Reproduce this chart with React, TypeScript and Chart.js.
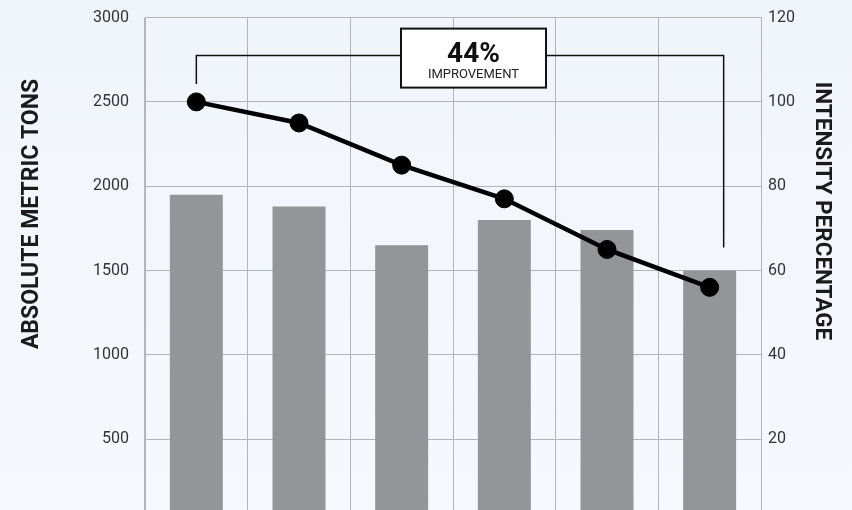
import React, { useEffect, useRef } from 'react';
import { Chart, registerables } from 'chart.js';

Chart.register(...registerables);

// ---- data ----
const categories = ['1', '2', '3', '4', '5', '6'];
const absoluteTons = [1950, 1880, 1650, 1800, 1740, 1500];
const intensityPct = [100, 95, 85, 77, 65, 56];
const leftAxisTitle = 'ABSOLUTE METRIC TONS';
const rightAxisTitle = 'INTENSITY PERCENTAGE';
const improvementValue = '44%';
const improvementLabel = 'IMPROVEMENT';

const FONT = 'Roboto, "Open Sans", sans-serif';
const SHIFT = 8; // canvas is lifted by this many px inside the frame

const overlayPlugin = {
  id: 'overlay',
  afterDatasetsDraw(chart: any) {
    const { ctx, chartArea, scales } = chart;
    const x = scales.x;
    const yL = scales.y;
    const yR = scales.y1;
    const top = chartArea.top;

    const xLeft = x.getPixelForValue(0);
    const xRight = x.getPixelForValue(categories.length - 1) + 14;
    const bracketY = top + 38;
    const leftBottom = yR.getPixelForValue(intensityPct[0]) - 18;
    const rightBottom = yL.getPixelForValue(absoluteTons[absoluteTons.length - 1]) - 23;

    const boxL = chartArea.left + 256;
    const boxW = 145;
    const boxT = top + 11;
    const boxH = 59;

    ctx.save();
    ctx.strokeStyle = '#111';
    ctx.lineWidth = 1.5;
    ctx.beginPath();
    ctx.moveTo(xLeft, leftBottom);
    ctx.lineTo(xLeft, bracketY);
    ctx.lineTo(boxL, bracketY);
    ctx.moveTo(boxL + boxW, bracketY);
    ctx.lineTo(xRight, bracketY);
    ctx.lineTo(xRight, rightBottom);
    ctx.stroke();

    ctx.fillStyle = '#ffffff';
    ctx.fillRect(boxL, boxT, boxW, boxH);
    ctx.lineWidth = 2;
    ctx.strokeRect(boxL, boxT, boxW, boxH);

    const cx = boxL + boxW / 2;
    ctx.fillStyle = '#111';
    ctx.textAlign = 'center';
    ctx.textBaseline = 'alphabetic';
    ctx.font = `bold 28px ${FONT}`;
    ctx.fillText(improvementValue, cx, top + 44);
    ctx.font = `13px ${FONT}`;
    ctx.fillStyle = '#222';
    ctx.fillText(improvementLabel, cx, top + 60);
    ctx.restore();
  },
  afterDraw(chart: any) {
    const { ctx } = chart;
    ctx.save();
    ctx.fillStyle = '#1a1a1a';
    ctx.font = `bold 23px ${FONT}`;
    ctx.textAlign = 'center';
    ctx.textBaseline = 'middle';
    ctx.translate(32, 214 + SHIFT);
    ctx.rotate(-Math.PI / 2);
    ctx.fillText(leftAxisTitle, 0, 0);
    ctx.restore();

    ctx.save();
    ctx.fillStyle = '#1a1a1a';
    ctx.font = `bold 22.5px ${FONT}`;
    ctx.textAlign = 'center';
    ctx.textBaseline = 'middle';
    ctx.translate(822, 211 + SHIFT);
    ctx.rotate(Math.PI / 2);
    ctx.fillText(rightAxisTitle, 0, 0);
    ctx.restore();
  },
};

export default function App() {
  const ref = useRef<HTMLCanvasElement | null>(null);

  useEffect(() => {
    if (!ref.current) return;
    const gridColor = '#b3b5b8';
    const chart = new Chart(ref.current, {
      type: 'bar',
      data: {
        labels: categories,
        datasets: [
          {
            type: 'line',
            data: intensityPct,
            yAxisID: 'y1',
            borderColor: '#000',
            backgroundColor: '#000',
            borderWidth: 4.5,
            pointRadius: 9,
            pointBorderWidth: 1,
            pointBackgroundColor: '#000',
            pointBorderColor: '#000',
            tension: 0,
            order: 0,
          } as any,
          {
            type: 'bar',
            data: absoluteTons,
            yAxisID: 'y',
            backgroundColor: '#949599',
            borderWidth: 0,
            categoryPercentage: 1,
            barPercentage: 0.516,
            order: 1,
          },
        ],
      },
      options: {
        responsive: false,
        animation: false,
        events: [],
        layout: { padding: { top: 7, bottom: 8, left: 0, right: 0 } },
        plugins: { legend: { display: false }, tooltip: { enabled: false } },
        scales: {
          x: {
            offset: true,
            ticks: { display: false },
            grid: { color: gridColor, lineWidth: 1, drawTicks: false, offset: true },
            border: { display: false },
          },
          y: {
            position: 'left',
            min: 0,
            max: 3000,
            ticks: {
              stepSize: 500,
              padding: 16,
              color: '#333',
              font: { family: FONT, size: 16 },
              callback: (v: any) => String(v),
            },
            grid: { color: gridColor, lineWidth: 1, drawTicks: false },
            border: { display: true, color: gridColor },
            afterFit(scale: any) {
              scale.width = 145;
            },
          },
          y1: {
            position: 'right',
            min: 0,
            max: 120,
            ticks: {
              stepSize: 20,
              padding: 7,
              color: '#333',
              font: { family: FONT, size: 16 },
              callback: (v: any) => String(v),
            },
            grid: { display: false, drawTicks: false },
            border: { display: true, color: gridColor },
            afterFit(scale: any) {
              scale.width = 91;
            },
          },
        },
      },
      plugins: [overlayPlugin],
    });
    return () => chart.destroy();
  }, []);

  return (
    <div
      style={{
        position: 'fixed',
        inset: 0,
        overflow: 'hidden',
        background: 'linear-gradient(180deg, #f0f5fb 0%, #f5f9fe 100%)',
      }}
    >
      <canvas
        ref={ref}
        width={852}
        height={557}
        style={{ display: 'block', marginTop: -SHIFT }}
      />
    </div>
  );
}
